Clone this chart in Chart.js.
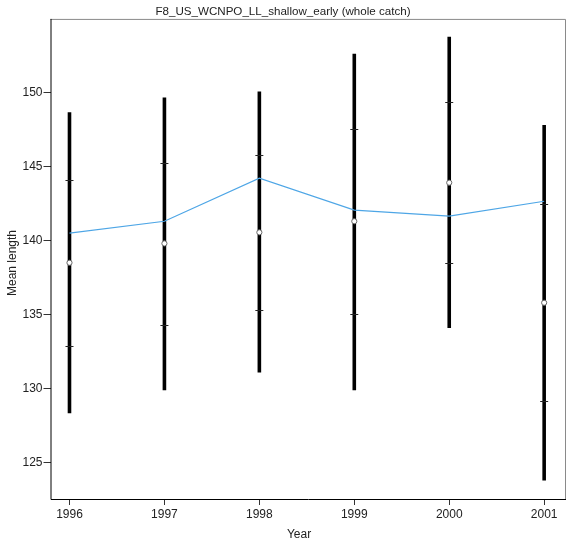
<!DOCTYPE html>
<html>
<head>
<meta charset="utf-8">
<script src="https://cdn.jsdelivr.net/npm/chart.js@4.4.1/dist/chart.umd.min.js"></script>
<style>
  html, body { margin: 0; padding: 0; background: #fff; }
  #wrap { width: 568px; height: 546px; }
</style>
</head>
<body>
<div id="wrap"><canvas id="c" width="568" height="546"></canvas></div>
<script>
// Mean length by year: expected (model) line, observed median with 50% and 95% intervals
const years = [1996, 1997, 1998, 1999, 2000, 2001];
const expectedMean = [140.5, 141.3, 144.2, 142.05, 141.65, 142.65];
const observedMedian = [138.5, 139.8, 140.55, 141.3, 143.9, 135.8];
const lower95 = [128.35, 129.9, 131.1, 129.9, 134.1, 123.8];
const upper95 = [148.65, 149.65, 150.05, 152.6, 153.75, 147.8];
const lower50 = [132.9, 134.3, 135.3, 135.05, 138.5, 129.2];
const upper50 = [144.1, 145.2, 145.75, 147.55, 149.35, 142.45];
const yTickValues = [125, 130, 135, 140, 145, 150];

const FONT = "'Liberation Sans', Arial, sans-serif";

// Interval bars drawn beneath the datasets, using the chart's own scales
const intervalBars = {
  id: 'intervalBars',
  beforeDatasetsDraw(chart) {
    const { ctx, scales: { x, y } } = chart;
    ctx.save();
    years.forEach((yr, i) => {
      const px = x.getPixelForValue(yr);
      ctx.strokeStyle = '#000';
      ctx.lineWidth = 3.6;
      ctx.lineCap = 'butt';
      ctx.beginPath();
      ctx.moveTo(px, y.getPixelForValue(upper95[i]));
      ctx.lineTo(px, y.getPixelForValue(lower95[i]));
      ctx.stroke();
      ctx.strokeStyle = '#222';
      ctx.lineWidth = 1;
      [lower50[i], upper50[i]].forEach(v => {
        const py = Math.round(y.getPixelForValue(v)) + 0.5;
        ctx.beginPath();
        ctx.moveTo(px - 4, py);
        ctx.lineTo(px + 4, py);
        ctx.stroke();
      });
    });
    ctx.restore();
  }
};

// Plot frame and axis titles
const frame = {
  id: 'frame',
  afterDraw(chart) {
    const { ctx, chartArea: a } = chart;
    ctx.save();
    ctx.lineWidth = 1;
    ctx.strokeStyle = '#8a8a8a';
    ctx.beginPath();
    ctx.moveTo(a.left, a.top + 0.5);
    ctx.lineTo(a.right - 0.5, a.top + 0.5);
    ctx.lineTo(a.right - 0.5, a.bottom);
    ctx.stroke();
    ctx.strokeStyle = '#000';
    ctx.beginPath();
    ctx.moveTo(a.left + 0.5, a.top);
    ctx.lineTo(a.left + 0.5, a.bottom + 0.5);
    ctx.lineTo(a.right, a.bottom + 0.5);
    ctx.stroke();

    ctx.fillStyle = '#222';
    ctx.font = '12px ' + FONT;
    ctx.textAlign = 'center';
    ctx.textBaseline = 'middle';
    ctx.fillText('Year', 299, 535);
    ctx.translate(13, 263);
    ctx.rotate(-Math.PI / 2);
    ctx.fillText('Mean length', 0, 0);
    ctx.restore();
  }
};

new Chart(document.getElementById('c'), {
  type: 'line',
  data: {
    datasets: [
      {
        label: 'Expected',
        data: years.map((yr, i) => ({ x: yr, y: expectedMean[i] })),
        borderColor: '#4ea6e6',
        borderWidth: 1.2,
        pointRadius: 0,
        fill: false,
        tension: 0,
        order: 2
      },
      {
        label: 'Observed',
        data: years.map((yr, i) => ({ x: yr, y: observedMedian[i] })),
        showLine: false,
        pointRadius: 2.6,
        pointBorderWidth: 1,
        pointBorderColor: '#666',
        pointBackgroundColor: '#fff',
        order: 1
      }
    ]
  },
  options: {
    responsive: false,
    animation: false,
    devicePixelRatio: 1,
    layout: { autoPadding: false, padding: { left: 0, right: 2, top: 0, bottom: 0 } },
    plugins: {
      legend: { display: false },
      tooltip: { enabled: false },
      title: {
        display: true,
        text: 'F8_US_WCNPO_LL_shallow_early (whole catch)',
        color: '#222',
        font: { family: FONT, size: 11.6, weight: 'normal', lineHeight: 1.2 },
        padding: { top: 5, bottom: 0 }
      }
    },
    scales: {
      x: {
        type: 'linear',
        min: 1995.8,
        max: 2001.23,
        afterBuildTicks: s => { s.ticks = years.map(v => ({ value: v })); },
        afterFit: s => { s.height = 47; s.paddingLeft = 0; s.paddingRight = 0; },
        border: { display: false },
        grid: { drawOnChartArea: false, drawTicks: true, tickLength: 6, color: '#333' },
        ticks: {
          callback: v => String(v),
          color: '#222',
          padding: 2,
          maxRotation: 0,
          autoSkip: false,
          font: { family: FONT, size: 12 }
        }
      },
      y: {
        type: 'linear',
        min: 122.56,
        max: 154.95,
        afterBuildTicks: s => { s.ticks = yTickValues.map(v => ({ value: v })); },
        afterFit: s => { s.width = 50.5; s.paddingTop = 0; s.paddingBottom = 0; },
        border: { display: false },
        grid: { drawOnChartArea: false, drawTicks: true, tickLength: 7, color: '#333' },
        ticks: {
          callback: v => String(v),
          color: '#222',
          padding: 1,
          font: { family: FONT, size: 12 }
        }
      }
    }
  },
  plugins: [intervalBars, frame]
});
</script>
</body>
</html>
